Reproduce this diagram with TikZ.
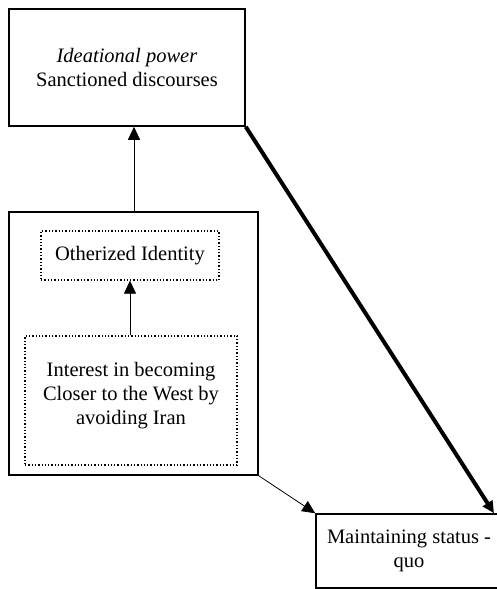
\documentclass[tikz,border=0pt]{standalone}
\usepackage{fontspec}
\setmainfont{Liberation Serif}
\usetikzlibrary{arrows.meta}
\tikzset{
  solidbox/.style={draw, line width=1.5pt, align=center, inner sep=0pt},
  dotbox/.style={draw, line width=1.3pt, dotted, align=center, inner sep=0pt},
  link/.style={-{Triangle[length=13pt,width=12pt]}, line width=0.8pt}
}
\begin{document}
\begin{tikzpicture}[x=1pt, y=1pt, font=\fontsize{20.5}{24}\selectfont]
\useasboundingbox (0,0) rectangle (496,-589);
\node[solidbox, minimum width=236pt, minimum height=117pt] (ideation) at (127,-67.5) {\textit{Ideational power}\\Sanctioned discourses};
\node[solidbox, minimum width=249pt, minimum height=263pt] (outer) at (133.5,-343.5) {};
\node[dotbox, minimum width=178pt, minimum height=49pt] (identity) at (130,-255.5) {Otherized Identity};
\node[dotbox, minimum width=212pt, minimum height=129pt] (interest) at (131,-400.5) {Interest in becoming\\Closer to the West by\\avoiding Iran\\[-10pt]};
\node[solidbox, minimum width=186pt, minimum height=74pt] (status) at (409,-551) {Maintaining status -\\quo};
\coordinate (tip) at (status.north -| 494,0);
\draw[link] (outer.north -| 134,0) -- (ideation.south -| 134,0);
\draw[link] (interest.north -| 130,0) -- (identity.south -| 130,0);
\draw[link] (outer.south east) -- (status.north west);
\draw[-{Triangle[length=12pt,width=11pt]}, line width=4pt] (ideation.south east) -- (tip);
\end{tikzpicture}
\end{document}
